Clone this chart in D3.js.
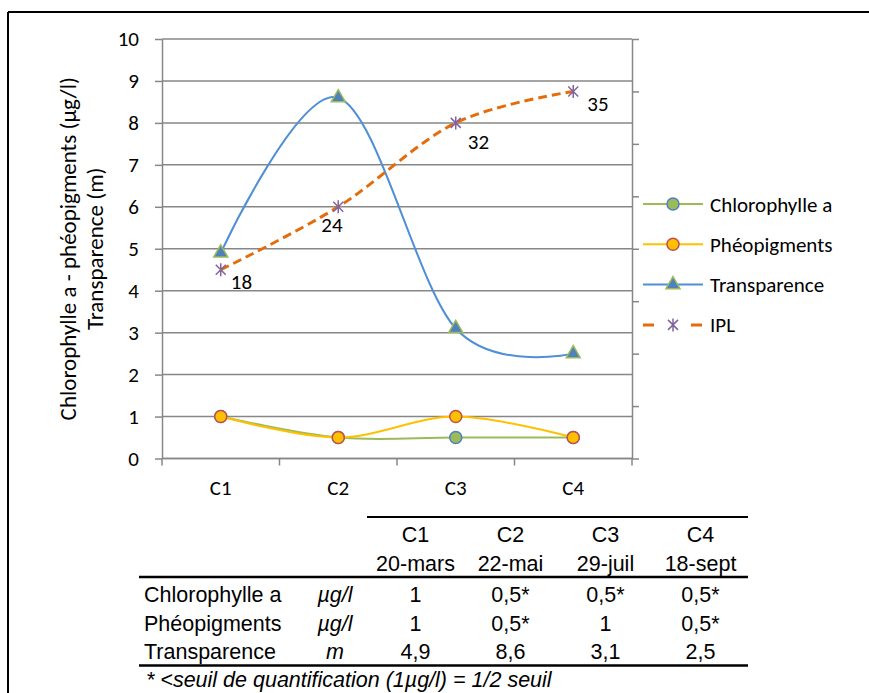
<!DOCTYPE html>
<html>
<head>
<meta charset="utf-8">
<script src="https://d3js.org/d3.v7.min.js"></script>
<style>
body { margin: 0; background: #fff; }
svg { display: block; }
.chart-text { font-family: Carlito, Calibri, Lato, sans-serif; font-size: 21px; fill: #000; }
.title-text { font-family: Carlito, Calibri, Lato, sans-serif; font-size: 23px; fill: #000; }
.table-text { font-family: Arial, "Liberation Sans", sans-serif; font-size: 21.5px; fill: #000; }
</style>
</head>
<body>
<div id="chart"></div>
<script>
// data
const campaigns = ["C1", "C2", "C3", "C4"];
const dates = ["20-mars", "22-mai", "29-juil", "18-sept"];
const chlorophylle = [1, 0.5, 0.5, 0.5];
const pheopigments = [1, 0.5, 1, 0.5];
const transparence = [4.9, 8.6, 3.1, 2.5];
const ipl = [18, 24, 32, 35];
const chloroBelowLimit = [false, true, true, true];
const pheoBelowLimit = [false, true, false, true];
const yTicks = [0, 1, 2, 3, 4, 5, 6, 7, 8, 9, 10];
const y2Ticks = [0, 5, 10, 15, 20, 25, 30, 35, 40];
const tableRows = ["Chlorophylle a", "Phéopigments", "Transparence"];
const tableUnits = ["µg/l", "µg/l", "m"];
const footnote = "* <seuil de quantification (1µg/l) = 1/2 seuil";
const yTitle = ["Chlorophylle a - phéopigments (µg/l)", "Transparence (m)"];

// small nudges for the IPL labels, like Excel placed them
const iplLabelNudge = [[10, 19], [-17, 25], [12, 26], [14, 20]];

const W = 869, H = 693;
const plot = { left: 162, right: 632, top: 39, bottom: 458.5 };
const gridColor = "#878787";

const svg = d3.select("#chart").append("svg").attr("width", W).attr("height", H);

// frame (top + left only)
svg.append("line").attr("x1", 8).attr("y1", 12).attr("x2", W).attr("y2", 12)
    .attr("stroke", "#000").attr("stroke-width", 2);
svg.append("line").attr("x1", 8).attr("y1", 12).attr("x2", 8).attr("y2", H)
    .attr("stroke", "#000").attr("stroke-width", 2);

const x = d3.scaleBand().domain(campaigns).range([plot.left, plot.right]);
const y = d3.scaleLinear().domain([0, 10]).range([plot.bottom, plot.top]);
const y2 = d3.scaleLinear().domain([0, 40]).range([plot.bottom, plot.top]);
const cx = (i) => x(campaigns[i]) + x.bandwidth() / 2;

// gridlines
svg.append("g").selectAll("line").data(yTicks).join("line")
    .attr("x1", plot.left).attr("x2", plot.right)
    .attr("y1", (d) => y(d)).attr("y2", (d) => y(d))
    .attr("stroke", gridColor).attr("stroke-width", 1.5);

// left axis
const yAxis = svg.append("g").attr("transform", `translate(${plot.left},0)`)
    .call(d3.axisLeft(y).tickValues(yTicks).tickSize(7).tickSizeOuter(0).tickPadding(16));
yAxis.attr("font-size", null).attr("font-family", null);
yAxis.select(".domain").attr("stroke", gridColor).attr("stroke-width", 1.5);
yAxis.selectAll(".tick line").attr("stroke", gridColor).attr("stroke-width", 1.5);
yAxis.selectAll("text").attr("class", "chart-text");

// right (secondary) axis, no labels
const y2Axis = svg.append("g").attr("transform", `translate(${plot.right},0)`)
    .call(d3.axisRight(y2).tickValues(y2Ticks).tickSize(7).tickSizeOuter(0).tickFormat(""));
y2Axis.select(".domain").attr("stroke", gridColor).attr("stroke-width", 1.5);
y2Axis.selectAll(".tick line").attr("stroke", gridColor).attr("stroke-width", 1.5);

// bottom axis: ticks between categories
const bounds = campaigns.map((c) => x(c)).concat([plot.right]);
svg.append("line").attr("x1", plot.left).attr("x2", plot.right)
    .attr("y1", plot.bottom).attr("y2", plot.bottom)
    .attr("stroke", gridColor).attr("stroke-width", 1.5);
svg.append("g").selectAll("line").data(bounds).join("line")
    .attr("x1", (d) => d).attr("x2", (d) => d)
    .attr("y1", plot.bottom).attr("y2", plot.bottom + 7)
    .attr("stroke", gridColor).attr("stroke-width", 1.5);
svg.append("g").selectAll("text").data(campaigns).join("text")
    .attr("class", "chart-text")
    .attr("x", (d, i) => cx(i)).attr("y", 495)
    .attr("text-anchor", "middle")
    .text((d) => d);

// y title, two lines
svg.append("g").selectAll("text").data(yTitle).join("text")
    .attr("class", "title-text")
    .attr("transform", (d, i) => `translate(${76 + i * 27},${(plot.top + plot.bottom) / 2}) rotate(-90)`)
    .attr("text-anchor", "middle")
    .text((d) => d);

// series
const series = [
    { name: "Chlorophylle a", values: chlorophylle, scale: y, line: "#9BBB59", marker: "circle", fill: "#9BBB59", stroke: "#4F81BD" },
    { name: "Phéopigments", values: pheopigments, scale: y, line: "#FFC000", marker: "circle", fill: "#FFC000", stroke: "#C0504D" },
    { name: "Transparence", values: transparence, scale: y, line: "#4F8FD6", marker: "triangle", fill: "#4F81BD", stroke: "#9BBB59" },
    { name: "IPL", values: ipl, scale: y2, line: "#E46C0A", marker: "star", fill: "none", stroke: "#8064A2", dash: "9,5" },
];

const starPath = "M-5,-5L5,5M-5,5L5,-5M0,-6.5L0,6.5";
const drawMarker = (sel, s) => {
    if (s.marker === "circle") {
        sel.append("circle").attr("r", 6)
            .attr("fill", s.fill).attr("stroke", s.stroke).attr("stroke-width", 1.5);
    } else if (s.marker === "triangle") {
        sel.append("path").attr("d", d3.symbol(d3.symbolTriangle, 85)())
            .attr("fill", s.fill).attr("stroke", s.stroke).attr("stroke-width", 1.5);
    } else {
        sel.append("path").attr("d", starPath)
            .attr("fill", "none").attr("stroke", s.stroke).attr("stroke-width", 1.5);
    }
};

series.forEach((s) => {
    const line = d3.line()
        .x((d, i) => cx(i))
        .y((d) => s.scale(d))
        .curve(d3.curveCatmullRom.alpha(0));
    svg.append("path").datum(s.values)
        .attr("d", line)
        .attr("fill", "none")
        .attr("stroke", s.line)
        .attr("stroke-width", s.dash ? 3 : 2)
        .attr("stroke-dasharray", s.dash || null);
    svg.append("g").selectAll("g").data(s.values).join("g")
        .attr("transform", (d, i) => `translate(${cx(i)},${s.scale(d)})`)
        .each(function () { drawMarker(d3.select(this), s); });
});

// IPL labels
svg.append("g").selectAll("text").data(ipl).join("text")
    .attr("class", "chart-text")
    .attr("x", (d, i) => cx(i) + iplLabelNudge[i][0])
    .attr("y", (d, i) => y2(d) + iplLabelNudge[i][1])
    .text((d) => d);

// legend
const legend = svg.append("g").selectAll("g").data(series).join("g")
    .attr("transform", (d, i) => `translate(643,${204 + i * 40.3})`);
legend.append("line")
    .attr("x1", 0).attr("x2", 60).attr("y1", 0).attr("y2", 0)
    .attr("stroke", (d) => d.line)
    .attr("stroke-width", (d) => (d.dash ? 3 : 2))
    .attr("stroke-dasharray", (d) => (d.dash ? "11,37" : null));
legend.append("g").attr("transform", "translate(30,0)")
    .each(function (d) { drawMarker(d3.select(this), d); });
legend.append("text")
    .attr("class", "chart-text")
    .attr("x", 67).attr("y", 0).attr("dy", "0.36em")
    .text((d) => d.name);

// table under the chart
const tx = d3.scaleBand().domain(campaigns).range([368, 748]);
const tcx = (i) => tx(campaigns[i]) + tx.bandwidth() / 2;
const rule = (x1, yy, w) => svg.append("line")
    .attr("x1", x1).attr("x2", 748).attr("y1", yy).attr("y2", yy)
    .attr("stroke", "#000").attr("stroke-width", w);
rule(367, 517, 2);
rule(139, 577, 2.5);
rule(139, 665.5, 2.5);

const header = svg.append("g").selectAll("g").data(campaigns).join("g");
header.append("text").attr("class", "table-text")
    .attr("x", (d, i) => tcx(i)).attr("y", 542).attr("text-anchor", "middle").text((d) => d);
header.append("text").attr("class", "table-text")
    .attr("x", (d, i) => tcx(i)).attr("y", 571).attr("text-anchor", "middle").text((d, i) => dates[i]);

const fmt = (v, low) => String(v).replace(".", ",") + (low ? "*" : "");
const tableValues = [
    chlorophylle.map((v, i) => fmt(v, chloroBelowLimit[i])),
    pheopigments.map((v, i) => fmt(v, pheoBelowLimit[i])),
    transparence.map((v) => fmt(v, false)),
];
const rowY = (i) => 602 + i * 28.6;
const rows = svg.append("g").selectAll("g").data(tableRows).join("g");
rows.append("text").attr("class", "table-text")
    .attr("x", 144).attr("y", (d, i) => rowY(i)).text((d) => d);
rows.append("text").attr("class", "table-text")
    .attr("x", 335).attr("y", (d, i) => rowY(i))
    .attr("text-anchor", "middle").attr("font-style", "italic")
    .text((d, i) => tableUnits[i]);
rows.each(function (d, r) {
    d3.select(this).selectAll(".val").data(tableValues[r]).join("text")
        .attr("class", "table-text val")
        .attr("x", (v, i) => tcx(i)).attr("y", rowY(r))
        .attr("text-anchor", "middle")
        .text((v) => v);
});

svg.append("text").attr("class", "table-text")
    .attr("x", 146).attr("y", 687).attr("font-style", "italic")
    .text(footnote);
</script>
</body>
</html>
